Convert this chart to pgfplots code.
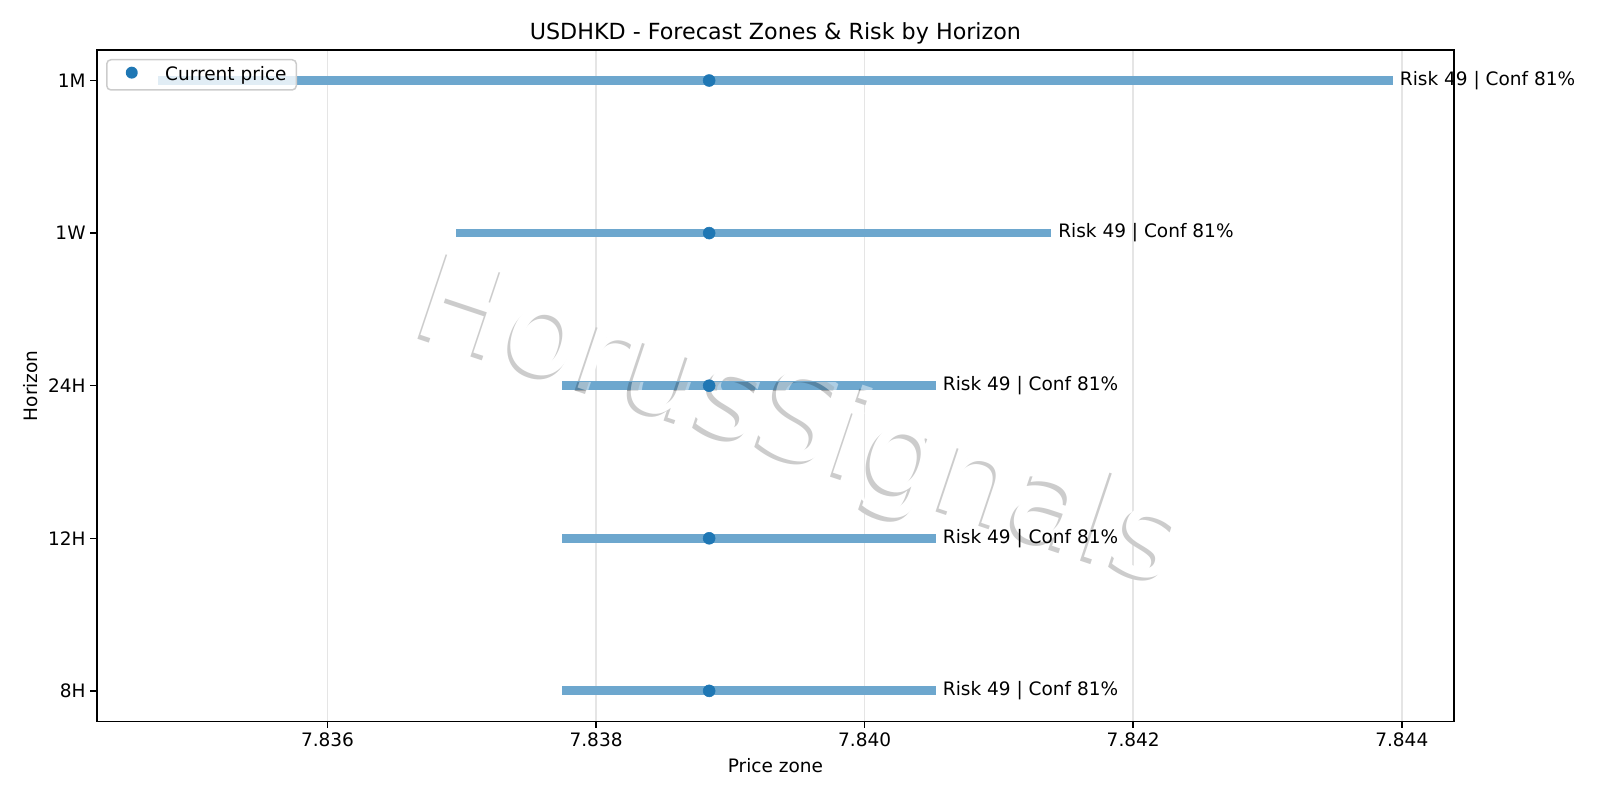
\documentclass[border=0pt]{standalone}
\usepackage{fontspec}
\setmainfont{DejaVu Sans}
\newfontfamily\wmfont{DejaVu Sans}
\usepackage{pgfplots}
\pgfplotsset{compat=1.18}
\definecolor{tabblue}{HTML}{1F77B4}
\newcommand\wm{\wmfont\fontsize{88}{88}\selectfont HorusSignals}
\begin{document}
\begin{tikzpicture}
\begin{axis}[
  at={(0,0)}, anchor=south west,
  width=977pt, height=483.4pt, scale only axis,
  xmin=7.834283, xmax=7.844388,
  ymin=-0.2, ymax=4.2,
  clip=false,
  axis line style={line width=1.07pt},
  ytick={0,1,2,3,4}, yticklabels={8H,12H,24H,1W,1M},
  xtick={7.836,7.838,7.840,7.842,7.844},
  scaled x ticks=false,
  xticklabel style={/pgf/number format/.cd, fixed, precision=3, fixed zerofill, assume math mode=true},
  tick label style={font=\fontsize{13.33}{16}\selectfont},
  tick align=outside, major tick length=4.67pt,
  tick style={line width=1.07pt, black},
  xtick pos=bottom, ytick pos=left,
  xmajorgrids, major grid style={line width=1.07pt, color=black!10},
  legend style={at={(0.0067,0.9866)}, anchor=north west, draw=black!20, line width=1.07pt, rounded corners=3pt,
    fill=white, fill opacity=0.8, text opacity=1, font=\fontsize{13.33}{16}\selectfont,
    inner xsep=0pt, inner ysep=5pt, nodes={inner sep=0pt}},
  legend image code/.code={\path[draw=none,fill=none] (0pt,0pt) -- (42pt,0pt); \fill[tabblue,draw=none,fill opacity=1] (18pt,0.3ex) circle (4.3pt);},
  legend cell align=left,
]
% watermark base: light gray drop shadow, then white letters (solid colours)
\node[rotate=-18.5, text=black!20, inner sep=0pt] at ([xshift=-2.6pt,yshift=-2.6pt]rel axis cs:0.517,0.440) {\wm};
\node[rotate=-18.5, text=white, inner sep=0pt] at (rel axis cs:0.517,0.440) {\wm};
\addplot[tabblue!65!white, line width=6.3pt, forget plot] coordinates {(7.834739,4) (7.843932,4)};
\addplot[tabblue!65!white, line width=6.3pt, forget plot] coordinates {(7.836957,3) (7.841388,3)};
\addplot[tabblue!65!white, line width=6.3pt, forget plot] coordinates {(7.837748,2) (7.840529,2)};
\addplot[tabblue!65!white, line width=6.3pt, forget plot] coordinates {(7.837748,1) (7.840529,1)};
\addplot[tabblue!65!white, line width=6.3pt, forget plot] coordinates {(7.837748,0) (7.840529,0)};
\addplot[only marks, mark=*, mark size=4.3pt, color=tabblue, mark options={draw=tabblue, fill=tabblue}]
  coordinates {(7.838842,0) (7.838842,1) (7.838842,2) (7.838842,3) (7.838842,4)};
\addlegendentry{Current price\hbox to 7pt{}}
% watermark overlay on the bars
\begin{scope}
\clip (axis cs:7.837748,1.9713) rectangle (axis cs:7.840529,2.0287)
      (axis cs:7.837748,0.9713) rectangle (axis cs:7.840529,1.0287);
\node[rotate=-18.5, text=black, opacity=0.2, inner sep=0pt] at ([xshift=-2.6pt,yshift=-2.6pt]rel axis cs:0.517,0.440) {\wm};
\node[rotate=-18.5, text=white, opacity=0.45, inner sep=0pt] at (rel axis cs:0.517,0.440) {\wm};
\end{scope}
\node[anchor=west, inner sep=0pt, xshift=5pt, font=\fontsize{13.33}{16}\selectfont] at (axis cs:7.843932,4) {Risk 49 | Conf 81\%};
\node[anchor=west, inner sep=0pt, xshift=5pt, font=\fontsize{13.33}{16}\selectfont] at (axis cs:7.841388,3) {Risk 49 | Conf 81\%};
\node[anchor=west, inner sep=0pt, xshift=5pt, font=\fontsize{13.33}{16}\selectfont] at (axis cs:7.840529,2) {Risk 49 | Conf 81\%};
\node[anchor=west, inner sep=0pt, xshift=5pt, font=\fontsize{13.33}{16}\selectfont] at (axis cs:7.840529,1) {Risk 49 | Conf 81\%};
\node[anchor=west, inner sep=0pt, xshift=5pt, font=\fontsize{13.33}{16}\selectfont] at (axis cs:7.840529,0) {Risk 49 | Conf 81\%};
% labels and title
\node[font=\fontsize{16}{19}\selectfont, anchor=base] at ([yshift=7.5pt]rel axis cs:0.5,1) {USDHKD - Forecast Zones \& Risk by Horizon};
\node[font=\fontsize{13.33}{16}\selectfont] at ([yshift=-31.6pt]rel axis cs:0.5,0) {Price zone};
\node[font=\fontsize{13.33}{16}\selectfont, rotate=90] at ([xshift=-47.8pt]rel axis cs:0,0.5) {Horizon};
\end{axis}
\pgfresetboundingbox
\path (-69.8pt,-56.6pt) rectangle (1082.2pt,519.4pt);
\end{tikzpicture}
\end{document}
